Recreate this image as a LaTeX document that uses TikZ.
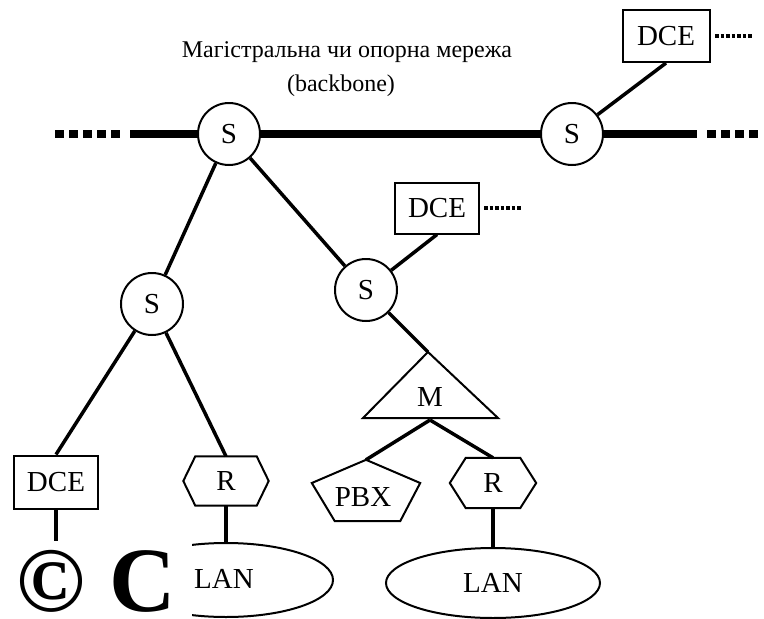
\documentclass[tikz,border=0pt]{standalone}
\usepackage{fontspec}
\setmainfont{Liberation Serif}
\usetikzlibrary{calc,shapes.geometric}
\begin{document}
\begin{tikzpicture}[x=1pt,y=-1pt,
  lbl/.style={font=\fontsize{29}{32}\selectfont},
  conn/.style={line width=3.5pt},
  outl/.style={line width=2pt,line join=miter},
  sw/.style={circle,draw,line width=2pt,minimum size=62pt,inner sep=0pt,lbl},
  dcebox/.style={rectangle,draw,line width=2pt,minimum width=85pt,minimum height=52pt,inner sep=0pt,lbl},
  hexnode/.style={rectangle,minimum width=85pt,minimum height=49pt,inner sep=0pt,lbl},
  pentnode/.style={rectangle,minimum width=108pt,minimum height=61pt,inner sep=0pt,lbl},
  lan/.style={ellipse,draw,line width=2pt,minimum width=214pt,minimum height=72pt,inner sep=0pt,lbl},
  bb/.style={line width=8pt},
  bbdot/.style={line width=8pt,dash pattern=on 9pt off 5pt},
  dotline/.style={line width=4pt,dash pattern=on 3.5pt off 2pt},
  title/.style={font=\fontsize{24}{27}\selectfont},
  big/.style={font=\fontsize{92}{92}\selectfont\bfseries,inner sep=0pt,anchor=base}
]
\useasboundingbox (0,0) rectangle (764,619);

% title
\node[title] (t1) at (347,52) {Магістральна чи опорна мережа};
\node[title] (t2) at (341,86) {(backbone)};

% switches
\node[sw] (s1) at (229,134) {S};
\node[sw] (s2) at (572,134) {S};
\node[sw] (s3) at (152,304) {S};
\node[sw] (s4) at (366,290) {S};

% DCE boxes
\node[dcebox,minimum width=87pt] (dceT) at (666,36) {DCE};
\node[dcebox,minimum width=84pt,minimum height=51pt] (dceM) at (437,208) {DCE};
\node[dcebox,minimum width=84pt,minimum height=53pt] (dceL) at (56,482) {DCE};

% backbone
\coordinate (bbL1) at (55,134);
\coordinate (bbL2) at (120,134);
\coordinate (bbL3) at (130,134);
\coordinate (bbR1) at (697,134);
\coordinate (bbR2) at (707,134);
\coordinate (bbR3) at (761,134);
\draw[bbdot] (bbL1) -- (bbL2);
\draw[bb] (bbL3) -- (s1);
\draw[bb] (s1) -- (s2);
\draw[bb] (s2) -- (bbR1);
\draw[bbdot] (bbR2) -- (bbR3);

% DCE dotted stubs
\coordinate (dTa) at (715,36);
\coordinate (dTb) at (752,36);
\coordinate (dMa) at (484,208);
\coordinate (dMb) at (521,208);
\draw[dotline] (dTa) -- (dTb);
\draw[dotline] (dMa) -- (dMb);

% router hexagons
\node[hexnode] (r1) at (226,481) {R};
\node[hexnode,minimum width=86pt,minimum height=50pt] (r2) at (493,483) {R};
\foreach \h/\c in {r1/12,r2/16}{
  \draw[outl] (\h.west) -- ($(\h.north west)+(\c,0)$) -- ($(\h.north east)+(-\c,0)$)
    -- (\h.east) -- ($(\h.south east)+(-\c,0)$) -- ($(\h.south west)+(\c,0)$) -- cycle;
}

% PBX pentagon
\node[pentnode] (pbx) at (366,490.5) {};
\node[lbl] (pbxt) at (363,497) {PBX};
\draw[outl] (pbx.north) -- ($(pbx.east)+(0,-7.5)$) -- ($(pbx.south east)+(-20,0)$)
  -- ($(pbx.south west)+(23,0)$) -- ($(pbx.west)+(0,-7.5)$) -- cycle;

% multiplexer triangle
\coordinate (mtop) at (428,352);
\coordinate (mleft) at (363,418);
\coordinate (mright) at (498,418);
\coordinate (mbase) at (430,420);
\draw[outl] (mtop) -- (mright) -- (mleft) -- cycle;
\node[lbl] (m) at (430,397) {M};

% LANs
\begin{scope}
  \clip (192,500) rectangle (764,619);
  \node[lan,minimum height=74pt] (lan1) at (226,580) {};
\end{scope}
\node[lbl] (lan1t) at (224,579) {LAN};
\node[lan,minimum height=70pt] (lan2) at (493,583) {LAN};

% connectors
\draw[conn] (s2) -- (dceT.south);
\draw[conn] (s1) -- (s3);
\draw[conn] (s1) -- (s4);
\draw[conn] (s4) -- (dceM.south);
\draw[conn] (s3) -- (dceL.north);
\draw[conn] (s3) -- (r1.north);
\draw[conn] (s4) -- (mtop);
\draw[conn] (mbase) -- (pbx.north);
\draw[conn] (mbase) -- (r2.north);
\draw[conn] (r1.south) -- (lan1.north);
\draw[conn] (r2.south) -- (lan2.north);
\coordinate (dLend) at (56,541);
\draw[conn] (dceL.south) -- (dLend);

% big marks
\node[big] (cp1) at (51,611) {©};
\node[big] (cp2) at (143,611) {C};
\end{tikzpicture}
\end{document}
